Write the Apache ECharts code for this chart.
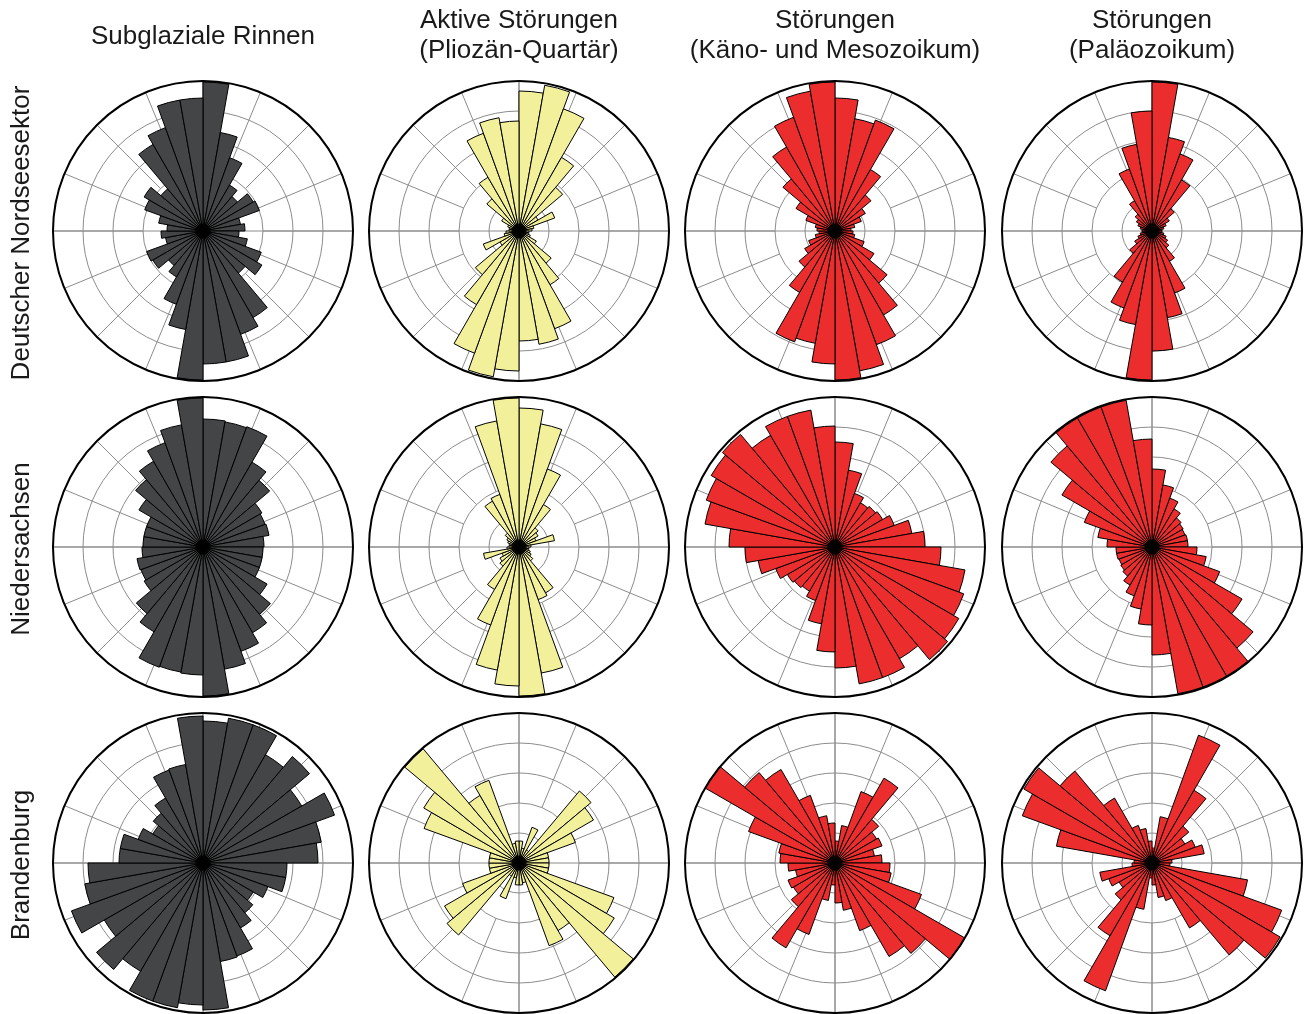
<!DOCTYPE html>
<html lang="de">
<head>
    <meta charset="UTF-8">
    <title>Richtungsrosen - Rinnen und Störungen</title>
    <script src="https://cdn.jsdelivr.net/npm/echarts@6/dist/echarts.min.js"></script>
    <style>
        html, body {
            margin: 0;
            padding: 0;
            background: #ffffff;
        }

        #chart {
            width: 1309px;
            height: 1014px;
        }
    </style>
</head>
<body>
    <div id="chart"></div>

    <script>
        // 10°-Sektoren (Startwinkel, im Uhrzeigersinn ab Nord)
        const sectors = ['0', '10', '20', '30', '40', '50', '60', '70', '80', '90', '100', '110',
            '120', '130', '140', '150', '160', '170', '180', '190', '200', '210', '220', '230',
            '240', '250', '260', '270', '280', '290', '300', '310', '320', '330', '340', '350'];

        // Richtungsdaten sind axial: Werte für 0-180°, die Gegenrichtung ist identisch
        // Deutscher Nordseesektor
        const rinnenNordsee = [149, 100, 78, 53, 45, 58, 60, 38, 42, 36, 45, 62, 68, 55, 100, 110, 133, 133];
        const aktivNordsee = [140, 148, 130, 85, 57, 22, 38, 15, 13, 10, 10, 12, 20, 42, 62, 104, 115, 110];
        const kaenoNordsee = [133, 114, 118, 71, 47, 35, 28, 20, 16, 18, 20, 31, 45, 68, 97, 121, 142, 149];
        const palaeoNordsee = [149, 95, 82, 59, 29, 20, 15, 12, 10, 10, 12, 15, 18, 22, 35, 66, 88, 120];

        // Niedersachsen
        const rinnenNiedersachsen = [128, 127, 128, 98, 87, 68, 66, 67, 61, 60, 60, 60, 74, 88, 99, 111, 124, 149];
        const aktivNiedersachsen = [139, 125, 83, 49, 25, 22, 18, 36, 12, 10, 10, 12, 14, 18, 53, 56, 128, 149];
        const kaenoNiedersachsen = [105, 78, 57, 51, 53, 55, 63, 78, 90, 106, 132, 137, 143, 147, 129, 139, 139, 121];
        const palaeoNiedersachsen = [78, 63, 52, 44, 38, 36, 35, 36, 36, 45, 55, 72, 104, 132, 149, 149, 149, 108];

        // Brandenburg
        const rinnenBrandenburg = [142, 147, 147, 125, 139, 114, 140, 120, 115, 84, 84, 69, 58, 65, 75, 99, 100, 147];
        const aktivBrandenburg = [22, 15, 38, 15, 94, 86, 60, 30, 30, 30, 30, 101, 110, 149, 78, 88, 20, 22];
        const kaenoBrandenburg = [22, 38, 76, 98, 57, 48, 50, 40, 47, 55, 57, 92, 150, 118, 108, 72, 48, 40];
        const palaeoBrandenburg = [15, 47, 136, 84, 48, 38, 46, 53, 20, 18, 97, 138, 148, 120, 75, 40, 35, 22];

        const columnTitles = [
            ['Subglaziale Rinnen'],
            ['Aktive Störungen', '(Pliozän-Quartär)'],
            ['Störungen', '(Käno- und Mesozoikum)'],
            ['Störungen', '(Paläozoikum)']
        ];
        const rowTitles = ['Deutscher Nordseesektor', 'Niedersachsen', 'Brandenburg'];
        const columnColors = ['#434547', '#f2f09b', '#ec2d2d', '#ec2d2d'];

        const panels = [
            [rinnenNordsee, aktivNordsee, kaenoNordsee, palaeoNordsee],
            [rinnenNiedersachsen, aktivNiedersachsen, kaenoNiedersachsen, palaeoNiedersachsen],
            [rinnenBrandenburg, aktivBrandenburg, kaenoBrandenburg, palaeoBrandenburg]
        ];

        const colX = [203, 519, 835, 1152];
        const rowY = [231, 547, 863];
        const R = 150;
        const gridColor = '#8c8c8c';
        const font = '"Liberation Sans", Arial, Helvetica, sans-serif';

        const hidden = {
            axisLine: { show: false },
            axisTick: { show: false },
            axisLabel: { show: false }
        };

        const polar = [];
        const angleAxis = [];
        const radiusAxis = [];
        const series = [];

        panels.forEach((row, r) => {
            row.forEach((half, c) => {
                const base = polar.length;
                const center = [colX[c], rowY[r]];

                // Balken, Ringe und Außenkreis
                polar.push({ center: center, radius: R });
                angleAxis.push({
                    polarIndex: base,
                    type: 'category',
                    data: sectors,
                    startAngle: 90,
                    clockwise: true,
                    boundaryGap: true,
                    z: 3,
                    axisLine: { lineStyle: { color: '#000', width: 2 } },
                    axisTick: { show: false },
                    axisLabel: { show: false },
                    splitLine: { show: false }
                });
                radiusAxis.push({
                    polarIndex: base,
                    type: 'value',
                    min: 0,
                    max: 150,
                    interval: 30,
                    ...hidden,
                    splitLine: { lineStyle: { color: gridColor, width: 1 } }
                });

                // Strahlen alle 22,5° ab dem zweiten Ring
                polar.push({ center: center, radius: [60, R] });
                angleAxis.push({
                    polarIndex: base + 1,
                    type: 'value',
                    min: 0,
                    max: 360,
                    interval: 22.5,
                    startAngle: 90,
                    ...hidden,
                    splitLine: { lineStyle: { color: gridColor, width: 1 } }
                });
                radiusAxis.push({ polarIndex: base + 1, type: 'value', min: 0, max: 150, show: false });

                // Haupt-Achsen N-S / O-W durch das Zentrum
                polar.push({ center: center, radius: R });
                angleAxis.push({
                    polarIndex: base + 2,
                    type: 'value',
                    min: 0,
                    max: 360,
                    interval: 90,
                    startAngle: 90,
                    ...hidden,
                    splitLine: { lineStyle: { color: gridColor, width: 1 } }
                });
                radiusAxis.push({ polarIndex: base + 2, type: 'value', min: 0, max: 150, show: false });

                series.push({
                    type: 'bar',
                    coordinateSystem: 'polar',
                    polarIndex: base,
                    data: half.concat(half),
                    barCategoryGap: '0%',
                    itemStyle: {
                        color: columnColors[c],
                        borderColor: '#000',
                        borderWidth: 1
                    },
                    silent: true
                });

                // Mittelpunkt
                series.push({
                    type: 'scatter',
                    coordinateSystem: 'polar',
                    polarIndex: base + 2,
                    data: [[0, 0]],
                    symbolSize: 15,
                    itemStyle: { color: '#000' },
                    z: 5,
                    silent: true
                });
            });
        });

        // Beschriftungen
        const graphic = [];
        columnTitles.forEach((lines, c) => {
            const y0 = lines.length === 1 ? 37 : 21;
            lines.forEach((line, i) => {
                graphic.push({
                    type: 'text',
                    x: colX[c],
                    y: y0 + i * 30,
                    style: {
                        text: line,
                        font: '26px ' + font,
                        fill: '#1a1a1a',
                        textAlign: 'center',
                        textVerticalAlign: 'middle'
                    }
                });
            });
        });
        rowTitles.forEach((label, r) => {
            graphic.push({
                type: 'text',
                x: 22,
                y: rowY[r] + 2,
                rotation: Math.PI / 2,
                style: {
                    text: label,
                    font: '26px ' + font,
                    fill: '#1a1a1a',
                    textAlign: 'center',
                    textVerticalAlign: 'middle'
                }
            });
        });

        const chart = echarts.init(document.getElementById('chart'));
        chart.setOption({
            animation: false,
            backgroundColor: '#ffffff',
            polar: polar,
            angleAxis: angleAxis,
            radiusAxis: radiusAxis,
            series: series,
            graphic: graphic
        });
    </script>
</body>
</html>
